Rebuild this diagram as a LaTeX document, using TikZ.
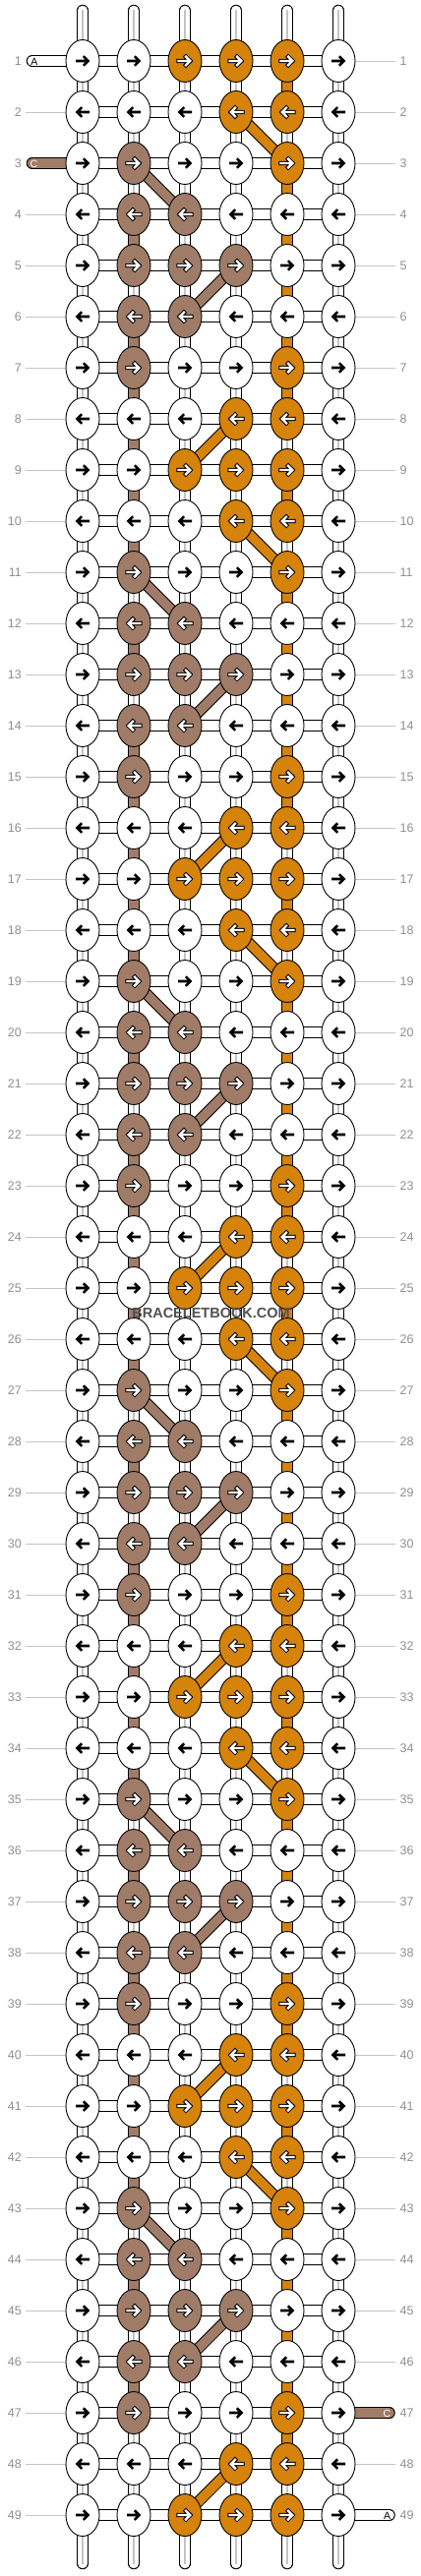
\documentclass[tikz,border=0pt]{standalone}
\usepackage{fontspec}
\setmainfont{Liberation Sans}
\usetikzlibrary{shapes.geometric,backgrounds}
\definecolor{bbor}{HTML}{D5830B}
\definecolor{bbbr}{HTML}{A07C68}
\definecolor{lblgray}{HTML}{8F8F8F}
\definecolor{linegray}{HTML}{C4C4C4}
\definecolor{wmgray}{HTML}{505050}
% column-major pattern: index 8*(c-1)+k, k=(row-1) mod 8 ; 0 white, 1 orange, 2 brown
\def\pat{{0,0,0,0,0,0,0,0, 0,0,2,2,2,2,2,0, 1,0,0,2,2,2,0,0, 1,1,0,0,2,0,0,1, 1,1,1,0,0,0,1,1, 0,0,0,0,0,0,0,0}}
\begin{document}
\begin{tikzpicture}[x=1pt,y=-1pt,
 knot/.style={ellipse, draw=black, line width=0.9pt, minimum width=34pt, minimum height=43pt, inner sep=0pt},
 tubeo/.style={line width=11.5pt, draw=black},
 tubei/.style={line width=9.5pt},
 midline/.style={line width=1.4pt, draw=linegray},
 guide/.style={line width=0.9pt, draw=linegray},
 rownum/.style={font=\fontsize{12.5}{14}\selectfont, text=lblgray, inner sep=0pt},
 endlbl/.style={font=\fontsize{10.5}{12}\selectfont, inner sep=0pt},
 arrk/.style={line width=2.6pt, line join=miter, draw=black},
 arro/.style={line width=4.4pt, line join=miter, line cap=rect, draw=black},
 arri/.style={line width=2.4pt, line join=miter, line cap=rect, draw=white},
]
\useasboundingbox (0,0) rectangle (428,2620);

% knots and arrows
\foreach \r in {1,...,49}{
  \pgfmathtruncatemacro\k{mod(\r-1,8)}
  \pgfmathtruncatemacro\dir{mod(\r,2)==1 ? 1 : -1}
  \foreach \c in {1,...,6}{
    \pgfmathtruncatemacro\ix{8*(\c-1)+\k}
    \pgfmathtruncatemacro\v{\pat[\ix]}
    \ifcase\v \def\fc{white}\or \def\fc{bbor}\or \def\fc{bbbr}\fi
    \node[knot, fill=\fc] (n-\r-\c) at ({84+52*(\c-1)}, {62+52*(\r-1)}) {};
    \begin{scope}[shift={(n-\r-\c.center)}, xscale=\dir]
      \ifnum\v=0
        \draw[arrk] (-7,0) -- (5,0) (0.8,-4.8) -- (5.6,0) -- (0.8,4.8);
      \else
        \draw[arro] (-6.5,0) -- (5,0) (1,-4.3) -- (5.3,0) -- (1,4.3);
        \draw[arri] (-6.5,0) -- (5,0) (1,-4.3) -- (5.3,0) -- (1,4.3);
      \fi
    \end{scope}
  }
}

% row numbers
\foreach \r in {1,...,49}{
  \node[rownum, anchor=east] (ll-\r) at (22, {62+52*(\r-1)}) {\r};
  \node[rownum, anchor=west] (rl-\r) at (406.5, {62+52*(\r-1)}) {\r};
}

\begin{pgfonlayer}{background}
  \fill[white] (0,0) rectangle (428,2620);
  % horizontal connectors
  \foreach \r in {1,...,49}{
    \foreach \c in {1,...,5}{
      \pgfmathtruncatemacro\d{\c+1}
      \draw[tubeo] (n-\r-\c.center) -- (n-\r-\d.center);
      \draw[tubei,white] (n-\r-\c.center) -- (n-\r-\d.center);
    }
  }
  % vertical connectors
  \foreach \r in {1,...,48}{
    \pgfmathtruncatemacro\k{mod(\r-1,8)}
    \pgfmathtruncatemacro\s{\r+1}
    \foreach \c in {1,...,6}{
      \pgfmathtruncatemacro\vc{(\c==2 && \r>=3 && \r<=46 && \k!=2 && \k!=4) ? 2 : ((\c==5 && \k!=1 && \k!=7) ? 1 : 0)}
      \draw[tubeo] (n-\r-\c.center) -- (n-\s-\c.center);
      \ifcase\vc
        \draw[tubei,white] (n-\r-\c.center) -- (n-\s-\c.center);
        \draw[midline] (n-\r-\c.center) -- (n-\s-\c.center);
      \or
        \draw[tubei,bbor] (n-\r-\c.center) -- (n-\s-\c.center);
      \or
        \draw[tubei,bbbr] (n-\r-\c.center) -- (n-\s-\c.center);
      \fi
    }
  }
  % diagonal connectors
  \foreach \r in {1,...,48}{
    \pgfmathtruncatemacro\k{mod(\r-1,8)}
    \pgfmathtruncatemacro\s{\r+1}
    \ifcase\k
    \or
      \draw[tubeo] (n-\r-4.center) -- (n-\s-5.center);
      \draw[tubei,bbor] (n-\r-4.center) -- (n-\s-5.center);
    \or
      \draw[tubeo] (n-\r-2.center) -- (n-\s-3.center);
      \draw[tubei,bbbr] (n-\r-2.center) -- (n-\s-3.center);
    \or
    \or
      \draw[tubeo] (n-\r-4.center) -- (n-\s-3.center);
      \draw[tubei,bbbr] (n-\r-4.center) -- (n-\s-3.center);
    \or
    \or
    \or
      \draw[tubeo] (n-\r-4.center) -- (n-\s-3.center);
      \draw[tubei,bbor] (n-\r-4.center) -- (n-\s-3.center);
    \fi
  }
  % top and bottom strand ends
  \foreach \c in {1,...,6}{
    \coordinate (t-\c) at ({84+52*(\c-1)}, 10.5);
    \coordinate (b-\c) at ({84+52*(\c-1)}, 2607.5);
    \draw[tubeo, line cap=round] (t-\c) -- (n-1-\c.center);
    \draw[tubei, white, line cap=round] (t-\c) -- (n-1-\c.center);
    \draw[midline] (t-\c) -- (n-1-\c.center);
    \draw[tubeo, line cap=round] (n-49-\c.center) -- (b-\c);
    \draw[tubei, white, line cap=round] (n-49-\c.center) -- (b-\c);
    \draw[midline] (n-49-\c.center) -- (b-\c);
  }
  % guide lines to row numbers
  \foreach \r in {2,4,5,...,49}{
    \coordinate (gl-\r) at (26, {62+52*(\r-1)});
    \draw[guide] (gl-\r) -- (n-\r-1.center);
  }
  \foreach \r in {1,2,...,46,48}{
    \coordinate (gr-\r) at (402, {62+52*(\r-1)});
    \draw[guide] (n-\r-6.center) -- (gr-\r);
  }
  % side strand ends
  \coordinate (sA) at (32.5, 62);
  \coordinate (sC) at (32.5, 166);
  \coordinate (eC) at (396, 2454);
  \coordinate (eA) at (396, 2558);
  \draw[tubeo, line cap=round] (sA) -- (n-1-1.center);
  \draw[tubei, white, line cap=round] (sA) -- (n-1-1.center);
  \draw[tubeo, line cap=round] (sC) -- (n-3-1.center);
  \draw[tubei, bbbr, line cap=round] (sC) -- (n-3-1.center);
  \draw[tubeo, line cap=round] (n-47-6.center) -- (eC);
  \draw[tubei, bbbr, line cap=round] (n-47-6.center) -- (eC);
  \draw[tubeo, line cap=round] (n-49-6.center) -- (eA);
  \draw[tubei, white, line cap=round] (n-49-6.center) -- (eA);
\end{pgfonlayer}

\node[endlbl, text=black] (lA) at (35, 62.5) {A};
\node[endlbl, text=white] (lC) at (34.5, 166.5) {C};
\node[endlbl, text=white] (rC) at (393.5, 2454.5) {C};
\node[endlbl, text=black] (rA) at (393.5, 2558.5) {A};

% watermark
\node[font=\fontsize{14.5}{16}\bfseries, text=wmgray, inner sep=0pt] (wm) at (214.5, 1335) {BRACELETBOOK.COM};
\end{tikzpicture}
\end{document}
